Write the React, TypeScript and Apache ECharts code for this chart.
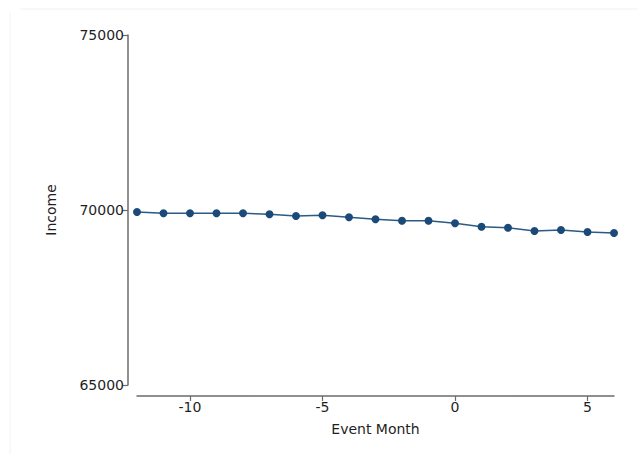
import React, { useEffect, useRef } from "react";
import * as echarts from "echarts";

const eventMonths = [-12, -11, -10, -9, -8, -7, -6, -5, -4, -3, -2, -1, 0, 1, 2, 3, 4, 5, 6];
const incomeValues = [
  69943, 69906, 69906, 69906, 69906, 69877, 69829, 69849, 69791, 69734,
  69694, 69694, 69620, 69523, 69494, 69400, 69429, 69371, 69343,
];
const xTickValues = [-10, -5, 0, 5];
const yTickValues = [65000, 70000, 75000];

export default function App() {
  const ref = useRef<HTMLDivElement>(null);
  useEffect(() => {
    if (!ref.current) return;
    const chart = echarts.init(ref.current, null, { renderer: "svg" });
    const font = "DejaVu Sans";
    const axisColor = "#6b6b6b";
    chart.setOption({
      animation: false,
      backgroundColor: "#ffffff",
      textStyle: { fontFamily: font },
      grid: { left: 137, right: 23, top: 35, bottom: 69, containLabel: false },
      graphic: [
        { type: "line", shape: { x1: 20, y1: 9, x2: 637, y2: 9 }, style: { stroke: "#f1f1f1", lineWidth: 1 }, silent: true },
        { type: "line", shape: { x1: 10, y1: 12, x2: 10, y2: 454 }, style: { stroke: "#f1f4f4", lineWidth: 1 }, silent: true },
      ],
      xAxis: {
        type: "value",
        min: -12,
        max: 6,
        offset: 11,
        name: "Event Month",
        nameLocation: "middle",
        nameGap: 26,
        nameTextStyle: { fontFamily: font, fontSize: 14, color: "#1f1f1f" },
        axisLine: { show: true, onZero: false, lineStyle: { color: axisColor, width: 1.5 } },
        axisTick: { show: true, customValues: xTickValues, length: 5, lineStyle: { color: axisColor, width: 1.2 } },
        axisLabel: { customValues: xTickValues, margin: 4, fontFamily: font, fontSize: 14, color: "#1f1f1f", formatter: (v: number) => String(v) },
        splitLine: { show: false },
      },
      yAxis: {
        type: "value",
        min: 65000,
        max: 75000,
        interval: 5000,
        offset: 9,
        name: "Income",
        nameLocation: "middle",
        nameGap: 70,
        nameRotate: 90,
        nameTextStyle: { fontFamily: font, fontSize: 14, color: "#1f1f1f" },
        axisLine: { show: true, onZero: false, lineStyle: { color: axisColor, width: 1.5 } },
        axisTick: { show: true, customValues: yTickValues, length: 6, lineStyle: { color: axisColor, width: 1.2 } },
        axisLabel: { customValues: yTickValues, margin: 4, fontFamily: font, fontSize: 14, color: "#1f1f1f", formatter: (v: number) => String(v) },
        splitLine: { show: false },
      },
      series: [
        {
          type: "line",
          data: eventMonths.map((m, i) => [m, incomeValues[i]]),
          symbol: "circle",
          symbolSize: 8,
          itemStyle: { color: "#1b4a78" },
          lineStyle: { color: "#2a5a85", width: 1.5 },
        },
      ],
    });
    return () => chart.dispose();
  }, []);
  return (
    <div
      ref={ref}
      style={{ position: "fixed", left: 0, top: 0, width: 637, height: 454 }}
    />
  );
}
